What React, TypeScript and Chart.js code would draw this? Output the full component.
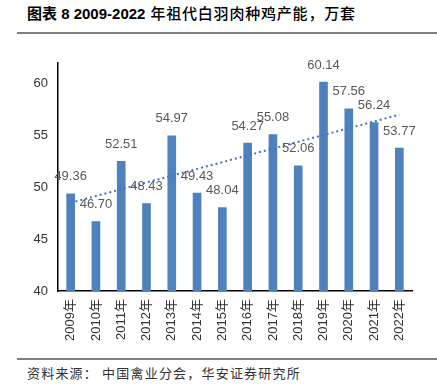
import React, { useEffect, useRef } from "react";
import { Chart, registerables } from "chart.js";

Chart.register(...registerables);

const categories = ["2009年", "2010年", "2011年", "2012年", "2013年", "2014年", "2015年", "2016年", "2017年", "2018年", "2019年", "2020年", "2021年", "2022年"];
const capacity = [49.36, 46.70, 52.51, 48.43, 54.97, 49.43, 48.04, 54.27, 55.08, 52.06, 60.14, 57.56, 56.24, 53.77];
// trend line endpoints (first and last category)
const trendStart = 48.5;
const trendEnd = 57.0;
const yTicks = [40, 45, 50, 55, 60];
const yMin = 40;
const yMax = 62;

const BAR = "#4F81BD";
const FONT = "'Liberation Sans', 'Noto Sans CJK SC', sans-serif";

const labelPlugin = {
  id: "barLabels",
  afterDatasetsDraw(chart: any) {
    const ctx = chart.ctx;
    const meta = chart.getDatasetMeta(0);
    ctx.save();
    ctx.font = `13px ${FONT}`;
    ctx.fillStyle = "#595959";
    ctx.textAlign = "center";
    ctx.textBaseline = "middle";
    meta.data.forEach((el: any, i: number) => {
      ctx.fillText(capacity[i].toFixed(2), el.x, el.y - 17);
    });
    ctx.restore();
  },
};

function ChartBox() {
  const ref = useRef<HTMLCanvasElement | null>(null);
  useEffect(() => {
    if (!ref.current) return;
    const trend = categories.map((_, i) => (i === 0 ? trendStart : i === categories.length - 1 ? trendEnd : null));
    const chart = new Chart(ref.current, {
      data: {
        labels: categories,
        datasets: [
          {
            type: "bar",
            data: capacity,
            backgroundColor: BAR,
            barThickness: 8,
            order: 2,
          },
          {
            type: "line",
            data: trend as any,
            borderColor: "#4472C4",
            borderWidth: 2,
            borderDash: [2, 3],
            pointRadius: 0,
            spanGaps: true,
            fill: false,
            order: 1,
          },
        ],
      } as any,
      options: {
        animation: false,
        responsive: false,
        maintainAspectRatio: false,
        layout: { padding: { top: 12, right: 13, left: 0, bottom: 0 } },
        plugins: { legend: { display: false }, tooltip: { enabled: false } },
        scales: {
          x: {
            offset: true,
            grid: { display: false, drawTicks: false },
            border: { display: true, color: "#000", width: 1.5 },
            ticks: {
              minRotation: 90,
              maxRotation: 90,
              autoSkip: false,
              padding: 8,
              color: "#333",
              font: { size: 13, family: FONT },
            },
            afterFit(scale: any) {
              scale.height = 59;
            },
          },
          y: {
            min: yMin,
            max: yMax,
            grid: { display: false, drawTicks: false },
            border: { display: true, color: "#000", width: 1.5 },
            ticks: {
              stepSize: 5,
              padding: 10,
              color: "#333",
              font: { size: 13, family: FONT },
            },
            afterBuildTicks(scale: any) {
              scale.ticks = yTicks.map((v) => ({ value: v }));
            },
            afterFit(scale: any) {
              scale.width = 48;
            },
          },
        },
      } as any,
      plugins: [labelPlugin],
    });
    return () => chart.destroy();
  }, []);
  return <canvas ref={ref} width={415} height={305} style={{ position: "absolute", left: 10, top: 45, width: 415, height: 305 }} />;
}

export default function App() {
  return (
    <div style={{ position: "fixed", left: 0, top: 0, width: 437, height: 388, background: "#fff", overflow: "hidden" }}>
      <div
        style={{
          position: "absolute",
          left: 27,
          top: 4,
          fontSize: 15,
          lineHeight: "20px",
          whiteSpace: "nowrap",
          color: "#000",
          fontFamily: FONT,
        }}
      >
        <span style={{ fontWeight: 700 }}>图表 8 2009-2022</span>
        <span style={{ fontWeight: 500, letterSpacing: 0.8 }}> 年祖代白羽肉种鸡产能，万套</span>
      </div>
      <div style={{ position: "absolute", left: 17, top: 32, width: 420, height: 1.5, background: "#7f7f7f" }} />
      <ChartBox />
      <div style={{ position: "absolute", left: 17, top: 358, width: 420, height: 1.5, background: "#7f7f7f" }} />
      <div
        style={{
          position: "absolute",
          left: 27,
          top: 364,
          fontSize: 13,
          lineHeight: "18px",
          letterSpacing: 1.2,
          whiteSpace: "nowrap",
          color: "#333",
          fontFamily: "'Noto Sans CJK SC', sans-serif",
        }}
      >
        资料来源： 中国禽业分会，华安证券研究所
      </div>
    </div>
  );
}
